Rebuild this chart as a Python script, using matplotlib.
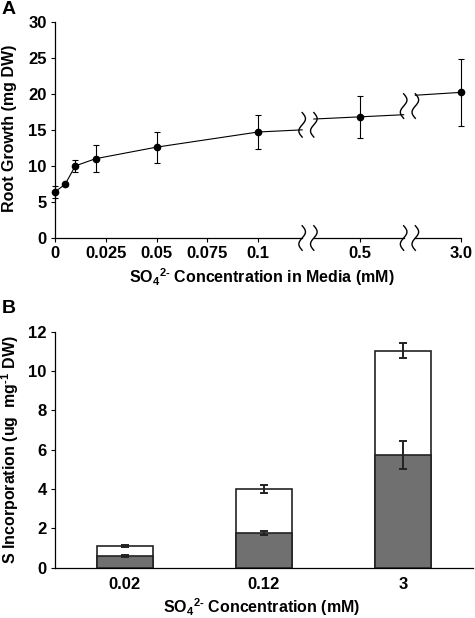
import numpy as np
import matplotlib
matplotlib.use("Agg")
import matplotlib.pyplot as plt

plt.rcParams['font.family'] = ['Liberation Sans', 'DejaVu Sans']
plt.rcParams['font.weight'] = 'bold'
plt.rcParams['mathtext.fontset'] = 'custom'
plt.rcParams['mathtext.rm'] = 'Liberation Sans:bold'
plt.rcParams['mathtext.bf'] = 'Liberation Sans:bold'
plt.rcParams['mathtext.it'] = 'Liberation Sans:bold'
plt.rcParams['mathtext.default'] = 'bf'

# ---------------- Panel A data ----------------
conc_a = [0, 0.005, 0.01, 0.02, 0.05, 0.1, 0.5, 3.0]
growth = [6.4, 7.45, 10.0, 11.0, 12.6, 14.7, 16.8, 20.2]
growth_err = [0.85, 0.2, 0.85, 1.9, 2.15, 2.35, 2.9, 4.6]
xtick_vals_a = [0, 0.025, 0.05, 0.075, 0.1, 0.5, 3.0]
xtick_labels_a = ['0', '0.025', '0.05', '0.075', '0.1', '0.5', '3.0']
# line values where the line meets the axis breaks (left side, right side)
break_left_y = [15.0, 17.1]
break_right_y = [16.5, 19.8]

# ---------------- Panel B data ----------------
cats_b = ['0.02', '0.12', '3']
total_b = [1.10, 4.02, 11.03]
total_err = [0.05, 0.2, 0.38]
dark_b = [0.58, 1.75, 5.73]
dark_err = [0.05, 0.1, 0.72]

# piecewise axis mapping for the broken x axis
knots_c = [0, 0.1, 0.5, 3.0]
knots_p = [0, 4, 6, 8]
def fwd(x):
    return np.interp(x, knots_c, knots_p)
def inv(p):
    return np.interp(p, knots_p, knots_c)

TICK_FS = 12
LAB_FS = 11.5

fig = plt.figure(figsize=(4.75, 6.18), dpi=100)

axA = fig.add_axes([55/475, 1-238/618, (461-55)/475, (238-21.7)/618])
axA.set_xscale('function', functions=(fwd, inv))
axA.set_xlim(0, 3.0)
axA.set_ylim(0, 30)

gaps = [(4.87, 5.1), (6.87, 7.1)]
gaps_c = [(float(inv(a)), float(inv(b))) for a, b in gaps]

seg1_x = conc_a[:6] + [gaps_c[0][0]]
seg1_y = growth[:6] + [break_left_y[0]]
seg2_x = [gaps_c[0][1], conc_a[6], gaps_c[1][0]]
seg2_y = [break_right_y[0], growth[6], break_left_y[1]]
seg3_x = [gaps_c[1][1], conc_a[7]]
seg3_y = [break_right_y[1], growth[7]]
for sx, sy in [(seg1_x, seg1_y), (seg2_x, seg2_y), (seg3_x, seg3_y)]:
    axA.plot(sx, sy, color='black', lw=0.8, clip_on=False, zorder=3)

axA.errorbar(conc_a, growth, yerr=growth_err, fmt='o', color='black',
             ms=4.5, elinewidth=0.8, capsize=2.5, capthick=0.8,
             clip_on=False, zorder=4)

for s in ['top', 'right', 'bottom']:
    axA.spines[s].set_visible(False)
axA.spines['left'].set_linewidth(0.9)

trans_pos = axA.transLimits + axA.transAxes
bounds = [0, gaps[0][0], gaps[0][1], gaps[1][0], gaps[1][1], 8]
for i in range(0, 6, 2):
    axA.plot([bounds[i], bounds[i+1]], [0, 0], color='black', lw=0.9,
             transform=trans_pos, clip_on=False)

def squiggle(ax, xc, yc, trans):
    t = np.linspace(0, 1, 60)
    xs = xc - 0.065 * np.sin(2*np.pi*t)
    ys = yc + 1.7 * (2*t - 1)
    ax.plot(xs, ys, color='black', lw=1.0, transform=trans, clip_on=False, zorder=5)

for (a, b), yl in zip(gaps, [15.7, 18.3]):
    for xc in (a, b):
        squiggle(axA, xc, 0, trans_pos)
        squiggle(axA, xc, yl, trans_pos)

axA.set_xticks(xtick_vals_a)
axA.set_xticklabels(xtick_labels_a)
axA.set_yticks(range(0, 31, 5))
axA.tick_params(axis='both', direction='out', length=3, width=0.8,
                labelsize=TICK_FS, pad=3)
axA.set_ylabel('Root Growth (mg DW)', fontsize=LAB_FS, fontweight='bold')
axA.yaxis.set_label_coords(-0.113, 0.506)
axA.yaxis.label.set_va('center')
axA.set_xlabel(r'SO$_{4}$$^{2\text{-}}$ Concentration in Media (mM)', fontsize=LAB_FS,
               fontweight='bold')
axA.xaxis.set_label_coords(0.51, -0.18)
axA.xaxis.label.set_va('center')
fig.text(0.004, 0.998, 'A', fontsize=14, fontweight='bold', va='top', ha='left')

# ---------------- Panel B ----------------
axB = fig.add_axes([55/475, 1-567.7/618, (473-55)/475, (567.7-331.7)/618])
xb = np.arange(len(cats_b))
axB.bar(xb, total_b, width=0.4, color='white', edgecolor='#222222', lw=1.2, zorder=2)
axB.bar(xb, dark_b, width=0.4, color='#707070', edgecolor='#222222', lw=1.2, zorder=3)
axB.errorbar(xb, total_b, yerr=total_err, fmt='none', ecolor='#222222',
             elinewidth=1.4, capsize=3, capthick=1.4, zorder=4)
axB.errorbar(xb, dark_b, yerr=dark_err, fmt='none', ecolor='#222222',
             elinewidth=1.4, capsize=3, capthick=1.4, zorder=4)
axB.set_xlim(-0.5, 2.5)
axB.set_ylim(0, 12)
axB.set_yticks(range(0, 13, 2))
axB.set_xticks(xb)
axB.set_xticklabels(cats_b)
for s in ['top', 'right']:
    axB.spines[s].set_visible(False)
axB.spines['left'].set_linewidth(0.9)
axB.spines['bottom'].set_linewidth(0.9)
axB.tick_params(axis='y', direction='out', length=3, width=0.8, labelsize=TICK_FS, pad=3)
axB.tick_params(axis='x', length=0, labelsize=TICK_FS, pad=7)
axB.set_ylabel(r'S Incorporation (ug  mg$^{\text{-}1}$ DW)', fontsize=LAB_FS,
               fontweight='bold')
axB.yaxis.set_label_coords(-0.108, 0.5)
axB.yaxis.label.set_va('center')
axB.set_xlabel(r'SO$_{4}$$^{2\text{-}}$ Concentration (mM)', fontsize=LAB_FS,
               fontweight='bold')
axB.xaxis.set_label_coords(0.495, -0.167)
axB.xaxis.label.set_va('center')
fig.text(0.004, 1-300/618, 'B', fontsize=14, fontweight='bold', va='top', ha='left')

fig.savefig('out.png', dpi=100)
